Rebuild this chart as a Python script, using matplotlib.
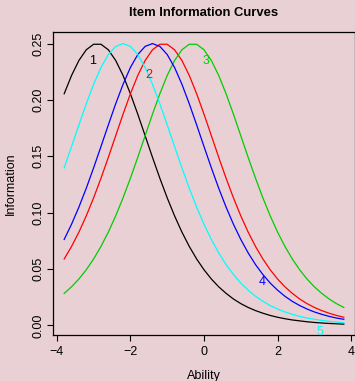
import matplotlib
matplotlib.use("Agg")
import matplotlib.pyplot as plt

plt.rcParams['font.family'] = ['Liberation Sans', 'DejaVu Sans']

ability = [-3.8, -3.6, -3.4, -3.2, -3.0, -2.8, -2.6, -2.4, -2.2, -2.0,
           -1.8, -1.6, -1.4, -1.2, -1.0, -0.8, -0.6, -0.4, -0.2, 0.0,
           0.2, 0.4, 0.6, 0.8, 1.0, 1.2, 1.4, 1.6, 1.8, 2.0,
           2.2, 2.4, 2.6, 2.8, 3.0, 3.2, 3.4, 3.6, 3.8]

item1 = [0.2055, 0.2217, 0.2350, 0.2445, 0.2494, 0.2494, 0.2445, 0.2350, 0.2217, 0.2055,
         0.1874, 0.1683, 0.1491, 0.1306, 0.1132, 0.0972, 0.0828, 0.0701, 0.0590, 0.0494,
         0.0412, 0.0343, 0.0285, 0.0235, 0.0194, 0.0160, 0.0132, 0.0109, 0.0089, 0.0073,
         0.0060, 0.0049, 0.0041, 0.0033, 0.0027, 0.0022, 0.0018, 0.0015, 0.0012]
item2 = [0.0590, 0.0701, 0.0828, 0.0972, 0.1132, 0.1306, 0.1491, 0.1683, 0.1874, 0.2055,
         0.2217, 0.2350, 0.2445, 0.2494, 0.2494, 0.2445, 0.2350, 0.2217, 0.2055, 0.1874,
         0.1683, 0.1491, 0.1306, 0.1132, 0.0972, 0.0828, 0.0701, 0.0590, 0.0494, 0.0412,
         0.0343, 0.0285, 0.0235, 0.0194, 0.0160, 0.0132, 0.0109, 0.0089, 0.0073]
item3 = [0.0285, 0.0343, 0.0412, 0.0494, 0.0590, 0.0701, 0.0828, 0.0972, 0.1132, 0.1306,
         0.1491, 0.1683, 0.1874, 0.2055, 0.2217, 0.2350, 0.2445, 0.2494, 0.2494, 0.2445,
         0.2350, 0.2217, 0.2055, 0.1874, 0.1683, 0.1491, 0.1306, 0.1132, 0.0972, 0.0828,
         0.0701, 0.0590, 0.0494, 0.0412, 0.0343, 0.0285, 0.0235, 0.0194, 0.0160]
item4 = [0.0763, 0.0898, 0.1050, 0.1217, 0.1398, 0.1587, 0.1779, 0.1966, 0.2139, 0.2288,
         0.2403, 0.2475, 0.2500, 0.2475, 0.2403, 0.2288, 0.2139, 0.1966, 0.1779, 0.1587,
         0.1398, 0.1217, 0.1050, 0.0898, 0.0763, 0.0644, 0.0540, 0.0452, 0.0376, 0.0313,
         0.0259, 0.0214, 0.0177, 0.0146, 0.0120, 0.0099, 0.0081, 0.0066, 0.0055]
item5 = [0.1398, 0.1587, 0.1779, 0.1966, 0.2139, 0.2288, 0.2403, 0.2475, 0.2500, 0.2475,
         0.2403, 0.2288, 0.2139, 0.1966, 0.1779, 0.1587, 0.1398, 0.1217, 0.1050, 0.0898,
         0.0763, 0.0644, 0.0540, 0.0452, 0.0376, 0.0313, 0.0259, 0.0214, 0.0177, 0.0146,
         0.0120, 0.0099, 0.0081, 0.0066, 0.0055, 0.0045, 0.0037, 0.0030, 0.0025]

item_labels = ["1", "2", "3", "4", "5"]
label_x = [-3.03, -1.49, 0.05, 1.59, 3.14]
label_y = [0.2347, 0.2223, 0.2347, 0.0382, -0.0062]

x_ticks = [-4, -2, 0, 2, 4]
y_ticks = [0.00, 0.05, 0.10, 0.15, 0.20, 0.25]
y_tick_labels = ["0.00", "0.05", "0.10", "0.15", "0.20", "0.25"]

colors = ["black", "red", "#00CD00", "blue", "cyan"]
bg = "#E9D0D4"

W, H = 355, 381
fig = plt.figure(figsize=(3.55, 3.81), dpi=100, facecolor=bg)
ax = fig.add_axes([53 / W, 1 - 335.3 / H, 1 - 53 / W, (335.3 - 32.3) / H])
ax.set_facecolor(bg)

series = [item1, item2, item3, item4, item5]
for vals, c in zip(series, colors):
    ax.plot(ability, vals, color=c, lw=0.9, solid_joinstyle='round')

for lab, lx, ly, c in zip(item_labels, label_x, label_y, colors):
    ax.text(lx, ly, lab, color=c, fontsize=9, ha='center', va='center')

ax.set_xlim(-4.104, 4.104)
ax.set_ylim(-0.0087, 0.2600)
ax.set_xticks(x_ticks)
ax.set_yticks(y_ticks)
ax.set_yticklabels(y_tick_labels, rotation=90, va='center')
ax.tick_params(axis='both', labelsize=9, length=4, width=0.8, colors='black')
ax.tick_params(axis='x', pad=4)
ax.tick_params(axis='y', pad=2)
for s in ax.spines.values():
    s.set_linewidth(0.9)

fig.text(204 / W, 1 - 13 / H, "Item Information Curves", fontsize=9.4,
         fontweight='bold', ha='center', va='center')
fig.text(204 / W, 1 - 376 / H, "Ability", fontsize=9, ha='center', va='center')
fig.text(11 / W, 1 - 183.8 / H, "Information", fontsize=9, ha='center',
         va='center', rotation=90)

fig.savefig("out.png", dpi=100, facecolor=bg)
